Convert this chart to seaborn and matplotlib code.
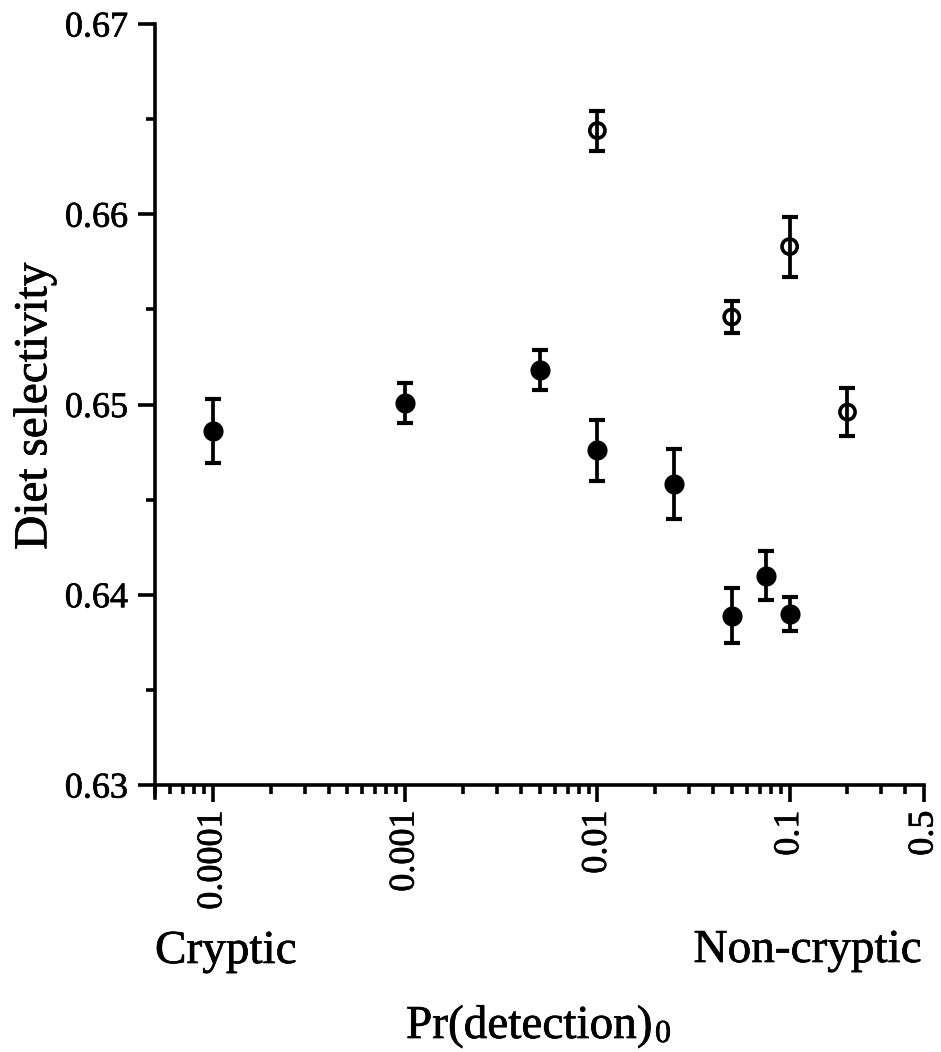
import numpy as np
import pandas as pd
import seaborn as sns
import matplotlib
matplotlib.use("Agg")
import matplotlib.pyplot as plt
import matplotlib.patheffects as pe
from matplotlib.ticker import LogLocator, NullFormatter, FixedLocator, FixedFormatter, MultipleLocator

# ---- data ----
filled_x = [0.0001, 0.001, 0.005, 0.01, 0.025, 0.05, 0.075, 0.1]
filled_y = [0.6486, 0.6501, 0.6518, 0.6476, 0.6458, 0.6389, 0.6410, 0.6390]
filled_err = [0.0017, 0.00105, 0.00105, 0.0016, 0.00184, 0.00145, 0.0013, 0.0009]

open_x = [0.01, 0.05, 0.1, 0.2]
open_y = [0.6644, 0.6546, 0.6583, 0.6496]
open_err = [0.00105, 0.00084, 0.00158, 0.00126]

x_ticks = [0.0001, 0.001, 0.01, 0.1, 0.5]
x_ticklabels = ["0.0001", "0.001", "0.01", "0.1", "0.5"]
y_ticks = [0.63, 0.64, 0.65, 0.66, 0.67]
y_ticklabels = ["0.63", "0.64", "0.65", "0.66", "0.67"]

sns.set_theme(style="ticks")
plt.rcParams["font.family"] = ["Liberation Serif", "DejaVu Serif"]

heavy = [pe.withStroke(linewidth=0.5, foreground="black")]

df_f = pd.DataFrame({"x": filled_x, "y": filled_y, "err": filled_err})
df_o = pd.DataFrame({"x": open_x, "y": open_y, "err": open_err})

fig = plt.figure(figsize=(9.41, 10.52), dpi=100)
ax = fig.add_axes([155 / 941, 1 - 785 / 1052, (924 - 155) / 941, (785 - 24) / 1052])

ax.set_xscale("log")

for d in (df_f, df_o):
    ax.errorbar(d["x"], d["y"], yerr=d["err"], fmt="none", ecolor="black",
                elinewidth=2.7, capsize=5.5, capthick=3.0, zorder=2)

sns.scatterplot(data=df_f, x="x", y="y", ax=ax, color="black", s=210,
                edgecolor="black", linewidth=0, zorder=3, legend=False)
sns.scatterplot(data=df_o, x="x", y="y", ax=ax, facecolor="none", s=120,
                edgecolor="black", linewidth=2.6, zorder=3, legend=False)

ax.set_xlim(5e-5, 0.5)
ax.set_ylim(0.63, 0.67)

ax.xaxis.set_major_locator(FixedLocator(x_ticks))
ax.xaxis.set_major_formatter(FixedFormatter(x_ticklabels))
ax.xaxis.set_minor_locator(LogLocator(base=10, subs=np.arange(2, 10), numticks=20))
ax.xaxis.set_minor_formatter(NullFormatter())

ax.yaxis.set_major_locator(FixedLocator(y_ticks))
ax.yaxis.set_major_formatter(FixedFormatter(y_ticklabels))
ax.yaxis.set_minor_locator(MultipleLocator(0.005))

for s in ("top", "right"):
    ax.spines[s].set_visible(False)
for s in ("left", "bottom"):
    ax.spines[s].set_linewidth(2.6)
    ax.spines[s].set_color("black")
ax.spines["left"].set_bounds(0.6293, 0.67)

ax.tick_params(axis="both", which="major", length=12.5, width=2.6, color="black",
               labelsize=26, labelcolor="black", direction="out")
ax.tick_params(axis="both", which="minor", length=6.5, width=2.6, color="black",
               direction="out")
ax.tick_params(axis="x", which="major", pad=6, labelrotation=90)
ax.tick_params(axis="y", which="major", pad=7)
for lab in ax.get_xticklabels():
    lab.set_va("top")
    lab.set_ha("center")
for lab in ax.get_xticklabels() + ax.get_yticklabels():
    lab.set_path_effects(heavy)

ax.set_xlabel("")
ax.set_ylabel("")

texts = [
    fig.text(35 / 941, 1 - 406 / 1052, "Diet selectivity", rotation=90, ha="center",
             va="center", fontsize=34, color="black"),
    fig.text(155 / 941, 1 - 963 / 1052, "Cryptic", ha="left", va="baseline",
             fontsize=34, color="black"),
    fig.text(922 / 941, 1 - 962 / 1052, "Non-cryptic", ha="right", va="baseline",
             fontsize=34, color="black"),
    fig.text(653 / 941, 1 - 1038 / 1052, "Pr(detection)", ha="right",
             va="baseline", fontsize=34, color="black"),
    fig.text(655 / 941, 1 - 1042 / 1052, "0", ha="left",
             va="baseline", fontsize=23, color="black"),
]
for t in texts:
    t.set_path_effects(heavy)

fig.savefig("out.png", dpi=100, facecolor="white")
